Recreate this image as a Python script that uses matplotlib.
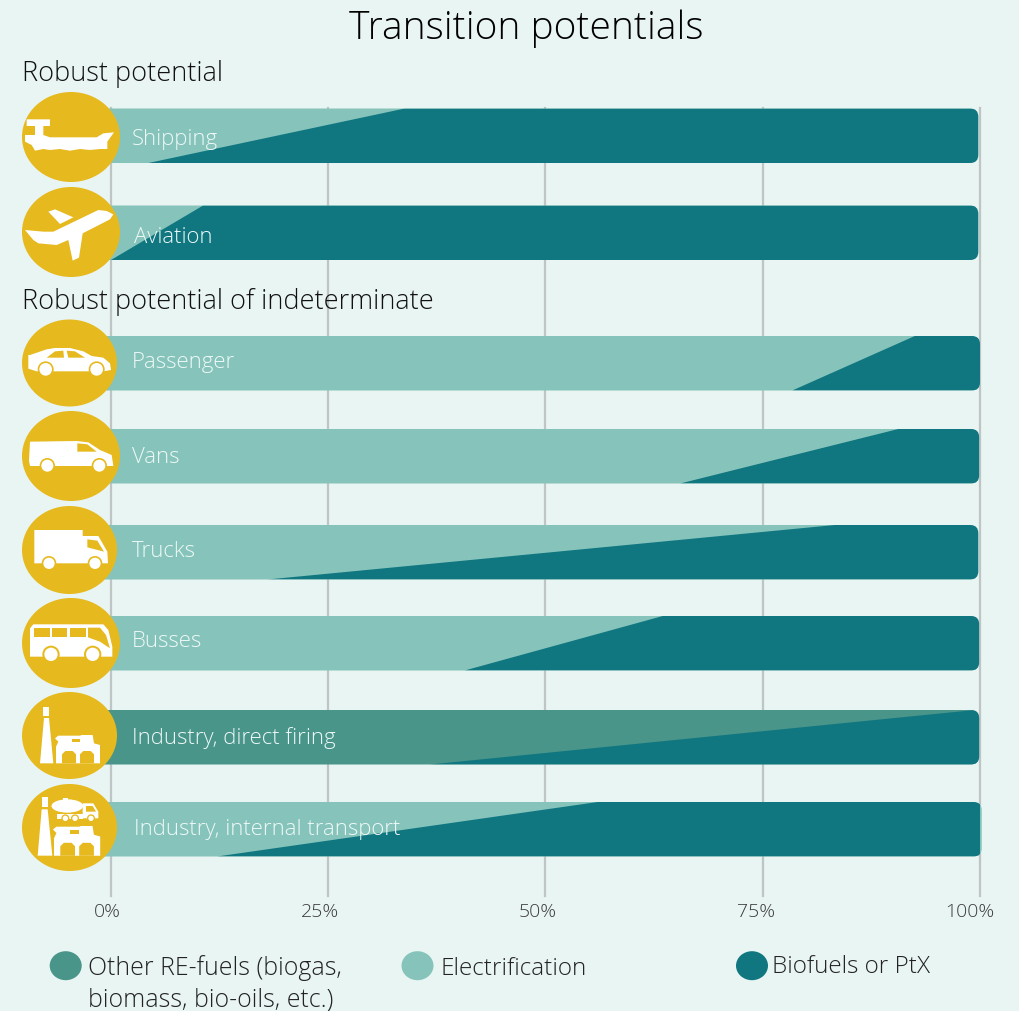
import matplotlib
matplotlib.use("Agg")
import matplotlib.pyplot as plt
from matplotlib.patches import Ellipse, FancyBboxPatch, Polygon, Circle
from matplotlib.transforms import ScaledTranslation

# ---- data ----
categories = ["Shipping", "Aviation", "Passenger", "Vans", "Trucks", "Busses",
              "Industry, direct firing", "Industry, internal transport"]
split_bottom = [4.3, 0.0, 78.4, 65.5, 18.0, 40.7, 36.7, 12.2]
split_top = [33.8, 10.6, 92.5, 90.6, 83.3, 63.5, 99.4, 56.0]
bar_end = [99.8, 99.8, 100.0, 99.9, 99.8, 99.9, 99.9, 100.2]
left_series = ["Electrification", "Electrification", "Electrification", "Electrification",
               "Electrification", "Electrification", "Other", "Electrification"]
xticks = [0, 25, 50, 75, 100]
xticklabels = ["0%", "25%", "50%", "75%", "100%"]

# ---- layout / style ----
W, H = 1020, 1011
BG = "#E9F5F3"; DARK = "#107781"; LIGHT = "#86C4BB"; MID = "#49958A"; GOLD = "#E6B91F"
colors = {"Electrification": LIGHT, "Other": MID}
bar_tops = [108.5, 205.5, 336, 429, 525, 616, 710, 802]
BAR_H = 54.5
label_xy = [(132, 139.5), (134, 237.5), (132, 362.5), (132, 457.5), (132, 551.5), (132, 641.5), (132, 738.5), (134, 829.5)]
circles = [(71, 137, 98, 90), (71, 232, 98, 90), (69.5, 363, 95, 87), (71, 456, 98, 90),
           (69.5, 550, 95, 88), (71, 643, 98, 90), (69.5, 735.5, 95, 87), (69.5, 827.5, 95, 87)]
tick_dx = [-4, -8, -8, -7, -10]

plt.rcParams["font.family"] = ["Open Sans", "DejaVu Sans"]
plt.rcParams["font.weight"] = 300

fig = plt.figure(figsize=(W / 100, H / 100), dpi=100, facecolor=BG)
ax = fig.add_axes([111 / W, 1 - 896 / H, (980 - 111) / W, (896 - 108) / H])
ax.set_facecolor("none")
ax.set_xlim(0, 100)
ax.set_ylim(896, 108)
ax.set_yticks([])
ax.set_xticks(xticks, xticklabels, fontsize=14, color="#3c3c3c")
ax.tick_params(axis="x", length=0, pad=5)
for s in ax.spines.values():
    s.set_visible(False)
ax.grid(axis="x", color="#BFC5C5", lw=1.6)
ax.set_axisbelow(True)
for gl in ax.get_xgridlines():
    gl.set_clip_on(False)
for lab, dx in zip(ax.get_xticklabels(), tick_dx):
    lab.set_transform(lab.get_transform() + ScaledTranslation(dx / 100, 0, fig.dpi_scale_trans))

px_per_pct = (980 - 111) / 100
for lo, hi, end, top, kind in zip(split_bottom, split_top, bar_end, bar_tops, left_series):
    box = FancyBboxPatch((-2, top), end + 2, BAR_H,
                         boxstyle="round,pad=0,rounding_size=0.95", mutation_aspect=px_per_pct,
                         fc=colors[kind], ec="none", zorder=3, clip_on=False)
    ax.add_patch(box)
    dark = Polygon([(lo, top + BAR_H), (hi, top), (end + 1, top), (end + 1, top + BAR_H)],
                   closed=True, fc=DARK, ec="none", zorder=4)
    ax.add_patch(dark)
    dark.set_clip_path(box)

# overlay in pixel coordinates for pictograms and labels
ov = fig.add_axes([0, 0, 1, 1], zorder=5)
ov.set_xlim(0, W)
ov.set_ylim(H, 0)
ov.axis("off")

for (cx, cy, w, h) in circles:
    ov.add_patch(Ellipse((cx, cy), w, h, fc=GOLD, ec="none"))

def poly(pts, ox, oy, c="white", s=3.0):
    ov.add_patch(Polygon([(x / s + ox, y / s + oy) for x, y in pts], closed=True, fc=c, ec="none"))

def wheel(x, y, r, ring, ox, oy, s=3.0):
    ov.add_patch(Circle((x / s + ox, y / s + oy), ring / s, fc=GOLD, ec="none"))
    ov.add_patch(Circle((x / s + ox, y / s + oy), r / s, fc="white", ec="none"))

# ship
poly([(80, 118), (150, 118), (150, 138), (130, 138), (130, 165), (150, 172), (290, 172), (310, 160),
      (342, 157), (322, 185), (322, 207), (300, 207), (270, 210), (240, 207), (210, 212), (180, 207),
      (150, 210), (130, 207), (105, 212), (95, 195), (75, 185), (75, 165), (105, 165), (105, 138), (80, 138)], 0, 80)
# plane
poly([(340, 403), (320, 393), (295, 390), (160, 455), (130, 455), (75, 450), (100, 480), (115, 490),
      (170, 495), (205, 480), (218, 542), (237, 533), (248, 460), (330, 418)], 0, 80)
poly([(145, 395), (165, 388), (220, 412), (180, 432)], 0, 80)
# car
poly([(85, 135), (90, 135), (140, 118), (165, 114), (210, 114), (250, 124), (275, 138), (310, 143),
      (330, 160), (333, 180), (310, 184), (110, 184), (85, 176)], 0, 310)
poly([(140, 143), (165, 124), (190, 122), (192, 143)], 0, 310, GOLD)
poly([(200, 122), (225, 124), (255, 143), (205, 143)], 0, 310, GOLD)
wheel(137, 178, 19, 24, 0, 310); wheel(290, 178, 19, 24, 0, 310)
# van
poly([(90, 395), (230, 393), (265, 397), (300, 420), (335, 435), (340, 468), (90, 468), (87, 452)], 0, 310)
poly([(232, 400), (262, 403), (290, 425), (232, 425)], 0, 310, GOLD)
wheel(142, 467, 18, 23, 0, 310); wheel(298, 467, 18, 23, 0, 310)
# truck
poly([(103, 660), (248, 660), (248, 678), (295, 678), (322, 725), (324, 760), (103, 760)], 0, 310)
poly([(262, 688), (292, 692), (312, 725), (262, 712)], 0, 310, GOLD)
wheel(147, 760, 17, 22, 0, 310); wheel(285, 760, 17, 22, 0, 310)
# bus
poly([(100, 103), (310, 103), (325, 120), (337, 170), (337, 200), (90, 200), (90, 115)], 0, 590)
for a, b in [(103, 150), (157, 202), (210, 257)]:
    poly([(a, 113), (b, 113), (b, 142), (a, 142)], 0, 590, GOLD)
poly([(264, 113), (300, 113), (318, 135), (330, 175), (300, 155), (264, 142)], 0, 590, GOLD)
wheel(153, 193, 20, 26, 0, 590); wheel(278, 193, 20, 26, 0, 590)

def factory(dx, dy, k=1.0):
    f = lambda p: [(dx + x * k, dy + y * k) for x, y in p]
    poly(f([(7, 2), (72, 2), (77, 0), (110, 0), (114, 25), (132, 30), (132, 85), (0, 85), (0, 35), (7, 20), (-3, 10)]), 0, 590)
    poly(f([(18, 85), (18, 58), (28, 48), (50, 48), (60, 58), (60, 85)]), 0, 590, GOLD)
    poly(f([(72, 85), (72, 58), (82, 48), (104, 48), (114, 58), (114, 85)]), 0, 590, GOLD)
    poly(f([(47, 12), (72, 12), (72, 22), (47, 22)]), 0, 590, GOLD)

# industry, direct firing
poly([(130, 352), (148, 352), (148, 378), (130, 378)], 0, 590)
poly([(132, 384), (147, 384), (160, 520), (120, 520)], 0, 590)
factory(168, 435)
# industry, internal transport
poly([(125, 622), (143, 622), (143, 650), (125, 650)], 0, 590)
poly([(125, 658), (143, 658), (157, 797), (113, 797)], 0, 590)
factory(162, 708, 1.05)
ov.add_patch(Ellipse((202 / 3, 590 + 648 / 3), 95 / 3, 40 / 3, fc="white", ec="none"))
poly([(190, 624), (205, 624), (205, 632), (190, 632)], 0, 590)
poly([(248, 640), (280, 640), (295, 665), (295, 685), (248, 685)], 0, 590)
poly([(258, 648), (278, 648), (288, 665), (258, 665)], 0, 590, GOLD)
poly([(172, 672), (248, 672), (248, 686), (172, 686)], 0, 590)
for wx in (196, 225, 273):
    wheel(wx, 685, 8, 12, 0, 590)

for name, (x, y) in zip(categories, label_xy):
    ov.text(x, y, name, color="#EEF8F6", fontsize=15.9, va="center", ha="left")

ov.text(526, 29, "Transition potentials", color="black", fontsize=28, ha="center", va="center")
ov.text(22, 74, "Robust potential", color="#111111", fontsize=19.5, ha="left", va="center")
ov.text(22, 302, "Robust potential of indeterminate", color="#111111", fontsize=19.5, ha="left", va="center")

for x, w, c in [(65.7, 32, MID), (417.5, 32, LIGHT), (752, 32, DARK)]:
    ov.add_patch(Ellipse((x, 965.7), w, 29, fc=c, ec="none"))
ov.text(88, 968, "Other RE-fuels (biogas,", color="#222222", fontsize=17.9, ha="left", va="center")
ov.text(88, 1000, "biomass, bio-oils, etc.)", color="#222222", fontsize=17.9, ha="left", va="center")
ov.text(441, 969, "Electrification", color="#222222", fontsize=17.5, ha="left", va="center")
ov.text(772, 967, "Biofuels or PtX", color="#222222", fontsize=17.5, ha="left", va="center")

fig.savefig("out.png", dpi=100, facecolor=BG)
